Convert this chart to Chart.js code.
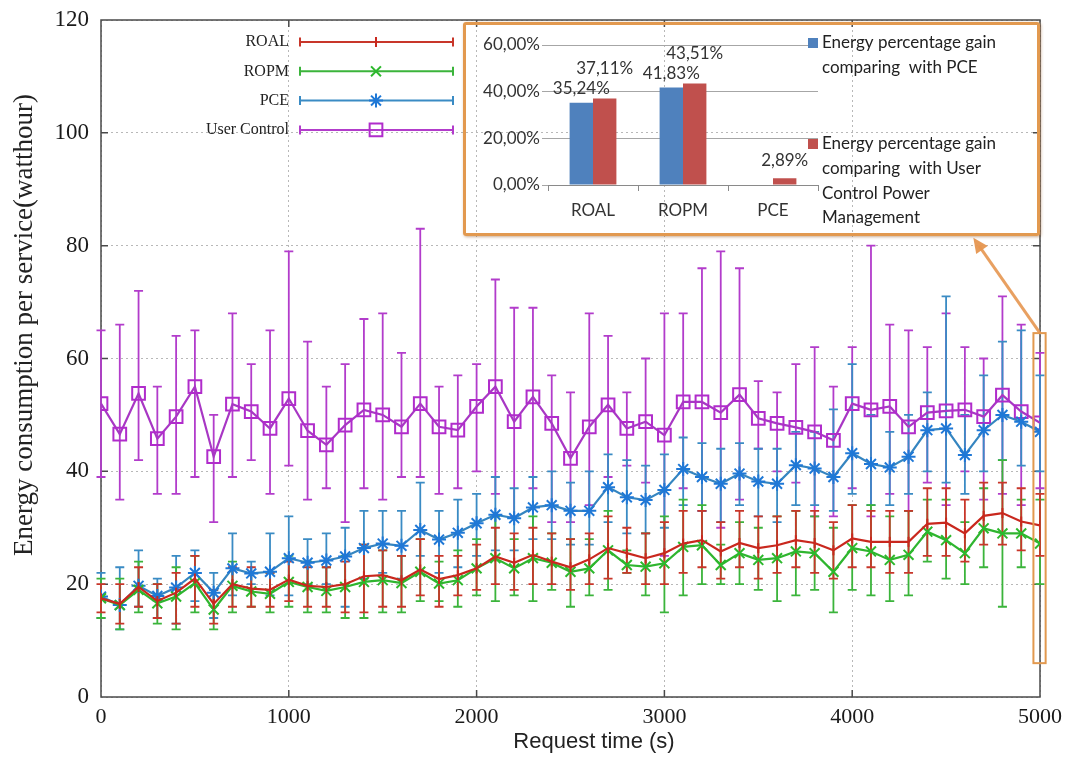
<!DOCTYPE html>
<html>
<head>
<meta charset="utf-8">
<script src="https://cdn.jsdelivr.net/npm/chart.js@4.4.1/dist/chart.umd.min.js"></script>
<style>
  body { margin: 0; background: #fff; }
  #wrap { position: relative; width: 1074px; height: 757px; }
  #main { position: absolute; left: 0; top: 0; }
  #inset {
    position: absolute; left: 463px; top: 22px; width: 577px; height: 214px;
    box-sizing: border-box; border: 3px solid #e2994f; border-radius: 3px;
    box-shadow: 1px 1px 3px rgba(150, 90, 40, 0.5);
  }
  #insetChart { position: absolute; left: 0; top: 0; }
</style>
</head>
<body>
<div id="wrap">
  <canvas id="main" width="1074" height="757"></canvas>
  <div id="inset"><canvas id="insetChart" width="571" height="208"></canvas></div>
</div>
<script>
// main chart data
const requestTimes = [0, 100, 200, 300, 400, 500, 600, 700, 800, 900, 1000, 1100, 1200, 1300, 1400, 1500, 1600, 1700,
  1800, 1900, 2000, 2100, 2200, 2300, 2400, 2500, 2600, 2700, 2800, 2900, 3000, 3100, 3200, 3300, 3400,
  3500, 3600, 3700, 3800, 3900, 4000, 4100, 4200, 4300, 4400, 4500, 4600, 4700, 4800, 4900, 5000];

const seriesNames = ['ROAL', 'ROPM', 'PCE', 'User Control'];

const roal = [17.5, 16.5, 19.5, 17, 18.5, 21, 16.5, 20, 19.2, 19, 20.8, 19.7, 19.5, 20, 21.4, 21.6, 20.7, 22.6,
  20.9, 21.6, 22.8, 24.9, 23.8, 25.2, 24, 23, 24.4, 26.4, 25.5, 24.6, 25.5, 27.2, 27.8, 25.8, 27.3,
  26.4, 26.9, 27.8, 27.3, 26, 28.1, 27.5, 27.5, 27.5, 30.7, 30.9, 29, 32.1, 32.6, 31.1, 30.4];
const roalHigh = [20, 20, 23, 20, 22, 25, 19, 23, 23, 22, 24, 23, 23, 24, 27, 26, 25, 28,
  25, 25, 27, 30, 29, 30, 29, 28, 29, 32, 30, 29, 31, 33, 33, 31, 33,
  32, 32, 33, 33, 31, 34, 33, 33, 33, 37, 37, 35, 38, 38, 37, 36];
const roalLow = [15, 13, 16, 14, 13, 16, 13, 16, 16, 16, 17, 16, 16, 15, 15, 16, 16, 18,
  16, 18, 19, 20, 19, 20, 20, 19, 20, 21, 22, 20, 20, 22, 23, 21, 23,
  21, 22, 23, 22, 21, 23, 23, 22, 22, 25, 25, 24, 27, 27, 26, 25];

const ropm = [17.5, 16.3, 19, 16.6, 17.8, 20.2, 15.5, 19.7, 18.7, 18.3, 20.4, 19.5, 18.8, 19.5, 20.4, 20.7, 20.2, 22.2,
  20.1, 20.7, 22.8, 24.6, 22.8, 24.6, 23.8, 22.2, 22.8, 26, 23.4, 23.1, 23.7, 26.6, 26.9, 23.4, 25.5,
  24.3, 24.6, 25.8, 25.5, 22.2, 26.4, 25.8, 24.3, 25.2, 29.3, 27.8, 25.5, 29.9, 29, 29, 27.2];
const ropmHigh = [21, 21, 24, 20, 23, 25, 19, 24, 22, 22, 25, 24, 23, 25, 27, 26, 25, 28,
  24, 26, 28, 32, 28, 32, 29, 28, 28, 33, 26, 29, 32, 35, 34, 27, 31,
  30, 32, 33, 32, 30, 34, 34, 32, 33, 35, 35, 31, 37, 42, 35, 35];
const ropmLow = [14, 12, 15, 13, 12, 15, 12, 15, 16, 15, 16, 15, 15, 14, 14, 15, 15, 17,
  17, 16, 18, 17, 18, 17, 19, 16, 18, 19, 22, 18, 15, 18, 20, 20, 20,
  19, 17, 18, 19, 15, 19, 18, 17, 18, 24, 21, 20, 23, 16, 23, 20];

const pce = [17.8, 16.3, 19.7, 17.9, 19.4, 22, 18.5, 22.8, 21.9, 22.2, 24.6, 23.8, 24.2, 24.9, 26.4, 27.2, 26.8, 29.6,
  27.9, 29.1, 30.8, 32.3, 31.7, 33.6, 34, 33, 33, 37.2, 35.4, 34.9, 36.7, 40.4, 39, 37.8, 39.6,
  38.2, 37.8, 41.1, 40.5, 39, 43.2, 41.3, 40.7, 42.6, 47.3, 47.6, 42.9, 47.3, 50, 48.8, 47];
const pceHigh = [22, 23, 26, 21, 25, 26, 22, 29, 24, 29, 32, 28, 29, 30, 33, 33, 33, 38,
  33, 35, 36, 39, 37, 39, 40, 38, 40, 43, 42, 41, 43, 46, 45, 44, 45,
  44, 44, 47, 47, 51, 59, 50, 47, 50, 54, 71, 50, 57, 63, 65, 57];
const pceLow = [14, 12, 16, 14, 13, 17, 14, 18, 20, 18, 18, 20, 20, 16, 21, 22, 21, 25,
  22, 23, 25, 26, 26, 28, 28, 27, 27, 31, 29, 29, 30, 34, 33, 31, 34,
  32, 31, 34, 34, 33, 36, 34, 34, 36, 40, 38, 36, 40, 42, 41, 40];

const userControl = [52, 46.6, 53.8, 45.8, 49.7, 55, 42.6, 51.9, 50.6, 47.6, 52.9, 47.2, 44.7, 48.2, 50.9, 50, 47.9, 52,
  47.9, 47.3, 51.5, 55, 48.8, 53.2, 48.5, 42.3, 47.9, 51.8, 47.6, 48.8, 46.4, 52.3, 52.3, 50.4, 53.6,
  49.4, 48.5, 47.8, 47, 45.5, 52, 50.9, 51.5, 47.9, 50.4, 50.7, 50.9, 49.7, 53.5, 50.6, 48.6];
const userControlHigh = [65, 66, 72, 55, 64, 65, 50, 68, 59, 65, 79, 63, 55, 59, 67, 68, 61, 83,
  55, 57, 59, 74, 69, 69, 57, 54, 68, 64, 54, 60, 68, 68, 76, 79, 76,
  56, 54, 59, 62, 55, 62, 80, 66, 65, 62, 68, 62, 60, 71, 66, 61];
const userControlLow = [39, 35, 42, 36, 36, 39, 31, 39, 42, 36, 41, 35, 37, 31, 37, 35, 39, 39,
  36, 37, 40, 36, 32, 37, 31, 31, 34, 39, 41, 38, 25, 37, 33, 30, 35,
  44, 40, 38, 32, 32, 37, 32, 36, 33, 38, 34, 40, 35, 36, 34, 37];

const xTicks = [0, 1000, 2000, 3000, 4000, 5000];
const yTicks = [0, 20, 40, 60, 80, 100, 120];

// inset bar chart data
const insetCategories = ['ROAL', 'ROPM', 'PCE'];
const gainVsPce = [35.24, 41.83, 0];
const gainVsUserControl = [37.11, 43.51, 2.89];
const insetTickLabels = ['0,00%', '20,00%', '40,00%', '60,00%'];
const insetLegendLines = [
  ['Energy percentage gain', 'comparing  with PCE'],
  ['Energy percentage gain', 'comparing  with User', 'Control Power', 'Management']
];

// zoomed region marker + arrow (in data units of the main chart)
const zoomBox = { xMin: 4965, xMax: 5030, yMin: 6, yMax: 64.5 };
const arrowTip = { x: 4645, y: 81.4 };

const styles = [
  { line: '#c9281e', marker: '#c9281e', err: '#c8362a', pointStyle: 'line', rotation: 90, radius: 5 },
  { line: '#2fb52f', marker: '#2cb82c', err: '#3bb43b', pointStyle: 'crossRot', rotation: 0, radius: 7 },
  { line: '#3585c0', marker: '#1f78d6', err: '#3a8bc4', pointStyle: 'star', rotation: 0, radius: 7 },
  { line: '#a837c4', marker: '#b02ccb', err: '#b23ccb', pointStyle: 'rect', rotation: 0, radius: 9 }
];

const seriesValues = [roal, ropm, pce, userControl];
const seriesHigh = [roalHigh, ropmHigh, pceHigh, userControlHigh];
const seriesLow = [roalLow, ropmLow, pceLow, userControlLow];

const datasets = seriesNames.map((name, i) => ({
  label: name,
  data: seriesValues[i].map((v, j) => ({ x: requestTimes[j], y: v })),
  errHigh: seriesHigh[i],
  errLow: seriesLow[i],
  borderColor: styles[i].line,
  borderWidth: 2.2,
  pointStyle: styles[i].pointStyle,
  pointRotation: styles[i].rotation,
  pointRadius: styles[i].radius,
  pointBorderColor: styles[i].marker,
  pointBackgroundColor: 'rgba(0,0,0,0)',
  pointBorderWidth: 2,
  tension: 0,
  fill: false
}));

const drawMarker = (ctx, st, x, y) => {
  ctx.save();
  ctx.strokeStyle = st.marker;
  ctx.fillStyle = 'rgba(0,0,0,0)';
  ctx.lineWidth = 2;
  Chart.helpers.drawPoint(ctx, { pointStyle: st.pointStyle, rotation: st.rotation, radius: st.radius, borderWidth: 2 }, x, y);
  ctx.restore();
};

const backgroundPlugin = {
  id: 'bg',
  beforeDraw(chart) {
    const ctx = chart.ctx;
    ctx.save();
    ctx.fillStyle = '#fff';
    ctx.fillRect(0, 0, chart.width, chart.height);
    ctx.restore();
  }
};

const framePlugin = {
  id: 'frame',
  beforeDatasetsDraw(chart) {
    const { ctx, chartArea: a, scales: { x, y } } = chart;
    ctx.save();
    ctx.strokeStyle = '#4a4a4a';
    ctx.lineWidth = 1.5;
    ctx.strokeRect(a.left, a.top, a.right - a.left, a.bottom - a.top);
    ctx.beginPath();
    yTicks.slice(1, -1).forEach(v => {
      const py = y.getPixelForValue(v);
      ctx.moveTo(a.left, py); ctx.lineTo(a.left + 7, py);
      ctx.moveTo(a.right, py); ctx.lineTo(a.right - 7, py);
    });
    xTicks.slice(1, -1).forEach(v => {
      const px = x.getPixelForValue(v);
      ctx.moveTo(px, a.bottom); ctx.lineTo(px, a.bottom - 7);
      ctx.moveTo(px, a.top); ctx.lineTo(px, a.top + 7);
    });
    ctx.stroke();
    ctx.restore();
  }
};

const errorBarPlugin = {
  id: 'errorBars',
  beforeDatasetsDraw(chart) {
    const { ctx, scales: { y } } = chart;
    [3, 2, 1, 0].forEach(i => {
      const ds = chart.data.datasets[i];
      const meta = chart.getDatasetMeta(i);
      ctx.save();
      ctx.strokeStyle = styles[i].err;
      ctx.lineWidth = 1.8;
      ctx.beginPath();
      meta.data.forEach((pt, j) => {
        const yh = y.getPixelForValue(ds.errHigh[j]);
        const yl = y.getPixelForValue(ds.errLow[j]);
        ctx.moveTo(pt.x, yh); ctx.lineTo(pt.x, yl);
        ctx.moveTo(pt.x - 4.5, yh); ctx.lineTo(pt.x + 4.5, yh);
        ctx.moveTo(pt.x - 4.5, yl); ctx.lineTo(pt.x + 4.5, yl);
      });
      ctx.stroke();
      ctx.restore();
    });
  }
};

const decorPlugin = {
  id: 'decor',
  afterDraw(chart) {
    const { ctx, chartArea: a, scales: { x, y } } = chart;

    // legend inside the plot
    ctx.save();
    ctx.font = '16px "Liberation Serif"';
    ctx.fillStyle = '#222';
    ctx.textAlign = 'right';
    ctx.textBaseline = 'middle';
    seriesNames.forEach((name, i) => {
      const ly = a.top + 22 + i * 29.3;
      const x0 = a.left + 199, x1 = a.left + 352;
      ctx.fillText(name, a.left + 188, ly);
      ctx.strokeStyle = styles[i].err;
      ctx.lineWidth = 2;
      ctx.beginPath();
      ctx.moveTo(x0, ly); ctx.lineTo(x1, ly);
      ctx.moveTo(x0, ly - 4.5); ctx.lineTo(x0, ly + 4.5);
      ctx.moveTo(x1, ly - 4.5); ctx.lineTo(x1, ly + 4.5);
      ctx.stroke();
      drawMarker(ctx, styles[i], a.left + 275, ly);
    });
    ctx.restore();

    // y axis title
    ctx.save();
    ctx.fillStyle = '#222';
    ctx.font = '27px "Liberation Serif"';
    ctx.textAlign = 'center';
    ctx.textBaseline = 'middle';
    ctx.translate(25, 325);
    ctx.rotate(-Math.PI / 2);
    ctx.fillText('Energy consumption per service(watthour)', 0, 0);
    ctx.restore();

    // x axis title
    ctx.save();
    ctx.fillStyle = '#222';
    ctx.font = '22px "Liberation Sans"';
    ctx.textAlign = 'center';
    ctx.textBaseline = 'middle';
    ctx.fillText('Request time (s)', 594, 742);
    ctx.restore();

    // zoomed region and arrow toward the inset
    const bx0 = x.getPixelForValue(zoomBox.xMin), bx1 = x.getPixelForValue(zoomBox.xMax);
    const by0 = y.getPixelForValue(zoomBox.yMax), by1 = y.getPixelForValue(zoomBox.yMin);
    ctx.save();
    ctx.strokeStyle = '#e2994f';
    ctx.lineWidth = 2;
    ctx.strokeRect(bx0, by0, bx1 - bx0, by1 - by0);
    const sx = x.getPixelForValue(5000), sy = by0;
    const tx = x.getPixelForValue(arrowTip.x), ty = y.getPixelForValue(arrowTip.y);
    const ang = Math.atan2(ty - sy, tx - sx);
    ctx.strokeStyle = 'rgba(230, 150, 80, 0.9)';
    ctx.lineWidth = 3;
    ctx.beginPath();
    ctx.moveTo(sx, sy);
    ctx.lineTo(tx - Math.cos(ang) * 10, ty - Math.sin(ang) * 10);
    ctx.stroke();
    ctx.fillStyle = 'rgba(230, 150, 80, 0.95)';
    ctx.beginPath();
    ctx.moveTo(tx, ty);
    ctx.lineTo(tx - Math.cos(ang) * 15 + Math.sin(ang) * 7, ty - Math.sin(ang) * 15 - Math.cos(ang) * 7);
    ctx.lineTo(tx - Math.cos(ang) * 15 - Math.sin(ang) * 7, ty - Math.sin(ang) * 15 + Math.cos(ang) * 7);
    ctx.closePath();
    ctx.fill();
    ctx.restore();
  }
};

new Chart(document.getElementById('main'), {
  type: 'line',
  data: { datasets: datasets },
  options: {
    responsive: false,
    animation: false,
    devicePixelRatio: 1,
    layout: { padding: { top: 20, right: 34, left: 0, bottom: 0 } },
    plugins: { legend: { display: false }, tooltip: { enabled: false } },
    scales: {
      x: {
        type: 'linear',
        min: 0,
        max: 5000,
        afterBuildTicks: (scale) => { scale.ticks = xTicks.map(v => ({ value: v })); },
        afterFit: (scale) => { scale.height = 60; scale.paddingLeft = 0; scale.paddingRight = 0; },
        ticks: { font: { family: 'Liberation Serif', size: 22 }, color: '#1a1a1a', padding: 7, maxRotation: 0,
          callback: (v) => String(v) },
        grid: { color: '#b8b8b8', lineWidth: 1, drawTicks: false },
        border: { display: false, dash: [2, 3] }
      },
      y: {
        min: 0,
        max: 120,
        afterBuildTicks: (scale) => { scale.ticks = yTicks.map(v => ({ value: v })); },
        afterFit: (scale) => { scale.width = 101; scale.paddingTop = 0; scale.paddingBottom = 0; },
        ticks: { font: { family: 'Liberation Serif', size: 23 }, color: '#1a1a1a', padding: 12,
          callback: (v) => String(v) },
        grid: { color: '#b8b8b8', lineWidth: 1, drawTicks: false },
        border: { display: false, dash: [2, 3] }
      }
    }
  },
  plugins: [backgroundPlugin, framePlugin, errorBarPlugin, decorPlugin]
});

// inset chart
const insetColors = ['#4f81bd', '#c0504d'];
const fmtPct = v => v.toFixed(2).replace('.', ',') + '%';

const insetLabelPlugin = {
  id: 'insetLabels',
  afterDatasetsDraw(chart) {
    const ctx = chart.ctx;
    ctx.save();
    ctx.font = '17px Lato';
    ctx.fillStyle = '#333';
    ctx.textAlign = 'center';
    ctx.textBaseline = 'middle';
    chart.data.datasets.forEach((ds, i) => {
      chart.getDatasetMeta(i).data.forEach((bar, j) => {
        const v = ds.data[j];
        if (!v) return;
        // second label is lifted when its neighbour also carries one
        const lift = i === 0 ? 14 : (chart.data.datasets[0].data[j] ? 30 : 18);
        ctx.fillText(fmtPct(v), bar.x, bar.y - lift);
      });
    });
    ctx.restore();
  },
  afterDraw(chart) {
    const { ctx, chartArea: a } = chart;
    ctx.save();
    ctx.font = '17px Lato';
    ctx.fillStyle = '#222';
    ctx.textBaseline = 'middle';
    const starts = [18, 119];
    insetLegendLines.forEach((lines, i) => {
      ctx.fillStyle = insetColors[i];
      ctx.fillRect(a.right - 10, starts[i] - 5, 10, 10);
      ctx.fillStyle = '#222';
      lines.forEach((t, k) => ctx.fillText(t, a.right + 4, starts[i] + k * 24.6));
    });
    ctx.restore();
  }
};

new Chart(document.getElementById('insetChart'), {
  type: 'bar',
  data: {
    labels: insetCategories,
    datasets: [
      { label: insetLegendLines[0].join(' '), data: gainVsPce, backgroundColor: insetColors[0] },
      { label: insetLegendLines[1].join(' '), data: gainVsUserControl, backgroundColor: insetColors[1] }
    ]
  },
  options: {
    responsive: false,
    animation: false,
    devicePixelRatio: 1,
    categoryPercentage: 0.52,
    barPercentage: 1,
    layout: { padding: { top: 20, right: 219, left: 0, bottom: 0 } },
    plugins: { legend: { display: false }, tooltip: { enabled: false } },
    scales: {
      x: {
        afterFit: (scale) => { scale.height = 48; },
        ticks: { font: { family: 'Lato', size: 17 }, color: '#333', padding: 9 },
        grid: { drawOnChartArea: false, drawTicks: true, tickLength: 6, color: '#8a8a8a', offset: true },
        border: { display: true, color: '#8a8a8a', width: 1 }
      },
      y: {
        min: 0,
        max: 60,
        afterFit: (scale) => { scale.width = 82; },
        ticks: { stepSize: 20, font: { family: 'Lato', size: 17 }, color: '#333', padding: 2,
          callback: (v, i) => insetTickLabels[i] },
        grid: { color: '#a6a6a6', lineWidth: 1, drawTicks: true, tickLength: 6 },
        border: { display: false }
      }
    }
  },
  plugins: [insetLabelPlugin]
});
</script>
</body>
</html>
